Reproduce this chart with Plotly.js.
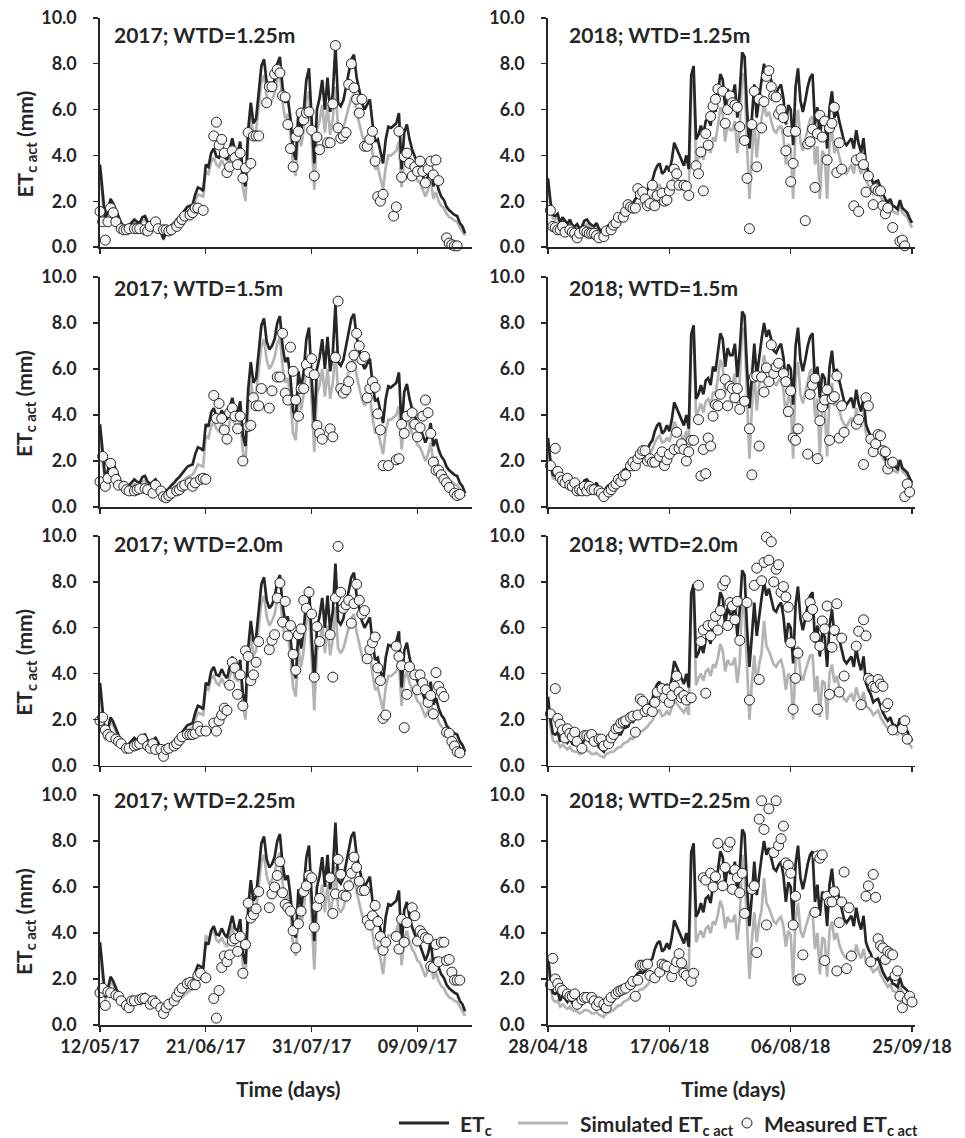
<!DOCTYPE html>
<html>
<head>
<meta charset="utf-8">
<script src="https://cdn.plot.ly/plotly-3.0.1.min.js"></script>
<style>html,body{margin:0;padding:0;background:#fff;}#chart{width:965px;height:1138px;}</style>
</head>
<body>
<div id="chart"></div>
<script>
// ---------------- DATA ----------------
const START_2017 = '2017-05-12';
const START_2018 = '2018-04-28';
const PANEL_TITLES = ['2017; WTD=1.25m','2018; WTD=1.25m','2017; WTD=1.5m','2018; WTD=1.5m',
                      '2017; WTD=2.0m','2018; WTD=2.0m','2017; WTD=2.25m','2018; WTD=2.25m'];
const X_TICKS_2017 = ['12/05/17','21/06/17','31/07/17','09/09/17'];
const X_TICKS_2018 = ['28/04/18','17/06/18','06/08/18','25/09/18'];
const Y_TICKS = [0, 2, 4, 6, 8, 10];
const SERIES_NAMES = ['ET<sub>c</sub>', 'Simulated ET<sub>c act</sub>', 'Measured ET<sub>c act</sub>'];

// ETc (daily, from start date)
const ETC_2017 = [3.6,2.2,1.2,1.6,2.1,1.9,1.6,1.3,1.05,0.9,
0.8,0.95,1.1,1.2,1.1,1.05,1.3,1.35,1.1,1.0,
1.1,1.2,1.0,0.7,0.35,0.7,0.8,0.95,1.05,1.2,
1.3,1.45,1.6,1.75,1.8,1.85,2.3,2.6,2.55,2.45,
3.6,3.5,4.1,4.3,3.95,3.9,4.2,3.95,3.8,4.3,
4.75,4.2,4.1,4.6,3.1,2.65,5.1,6.3,5.4,5.6,
6.9,7.9,8.2,7.2,6.85,7.0,7.3,8.0,8.3,7.0,
6.3,6.5,5.6,4.2,3.8,5.9,5.1,5.9,7.3,7.8,
5.6,3.65,6.0,6.5,7.3,6.0,7.4,5.9,6.7,8.8,
6.3,6.15,6.4,7.0,7.6,8.2,8.4,7.4,6.85,6.3,
6.0,6.2,6.45,5.4,4.6,4.7,4.2,3.65,4.7,5.25,
5.2,5.3,5.4,5.85,3.4,5.0,5.35,4.7,4.25,3.95,
3.65,3.45,3.1,2.8,3.1,3.65,2.65,2.95,2.5,2.2,
2.05,1.75,1.6,1.5,1.4,1.35,1.05,0.9,0.6];

const ETC_2018 = [3.0,2.0,1.4,1.35,1.45,1.05,1.3,1.15,1.0,1.2,
0.95,0.9,1.0,0.8,0.9,1.15,1.2,1.05,0.95,0.9,
1.05,0.8,0.7,0.6,0.85,0.95,1.0,1.05,1.25,1.35,
1.35,1.6,1.65,1.7,1.95,1.9,2.1,2.25,2.3,2.25,
2.35,2.5,2.75,2.9,3.3,3.55,3.65,3.2,3.3,3.55,
3.3,3.8,4.55,4.3,4.0,3.8,3.55,4.0,3.4,7.5,
7.9,4.7,4.9,5.3,4.9,5.5,5.6,5.3,6.1,5.9,
6.7,7.55,7.3,6.1,6.9,6.6,6.6,7.1,5.65,6.8,
8.5,8.3,6.0,4.3,5.65,7.1,5.65,6.6,7.3,8.0,
7.4,7.7,7.25,6.8,6.7,6.95,7.1,6.5,5.35,6.2,
6.0,4.45,7.0,7.8,6.4,5.9,6.4,7.0,7.4,7.55,
5.35,6.1,4.75,5.8,5.6,4.3,6.1,6.8,5.65,6.0,
5.5,5.0,4.6,4.45,4.6,4.75,4.3,5.1,4.5,4.15,
4.75,3.6,3.3,3.1,2.75,2.85,2.9,2.55,2.3,2.1,
1.95,2.1,1.8,1.75,1.65,2.05,1.7,1.6,1.5,1.25,
1.05];

// Simulated ETc act (daily)
const SIM_2017_125 = [3.4,2.0,1.1,1.5,1.9,1.8,1.5,1.2,0.95,0.8,
0.7,0.85,1.0,1.1,1.0,0.95,1.15,1.2,1.0,0.9,
1.0,1.05,0.9,0.6,0.3,0.6,0.7,0.85,0.95,1.05,
1.15,1.3,1.4,1.55,1.6,1.65,2.0,2.3,2.25,2.2,
3.3,3.2,3.7,3.9,3.6,3.5,3.8,3.55,3.4,3.9,
4.3,3.8,3.7,4.1,2.6,2.0,4.6,5.7,4.9,5.1,
6.3,7.2,7.5,6.6,6.2,6.4,6.7,7.3,7.6,6.3,
5.6,5.8,4.9,3.5,3.1,5.2,4.4,5.1,6.4,6.8,
4.8,2.5,5.1,5.5,6.2,5.0,6.2,4.9,5.6,7.0,
5.2,5.0,5.2,5.7,6.1,6.5,6.7,5.9,5.4,4.9,
4.6,4.8,5.0,4.1,3.4,3.5,3.0,2.5,3.5,4.0,
4.0,4.1,4.2,4.6,2.6,3.9,4.2,3.7,3.4,3.2,
2.9,2.8,2.5,2.2,2.5,3.0,2.1,2.4,2.0,1.8,
1.7,1.45,1.3,1.25,1.15,1.1,0.85,0.7,0.5];

const SIM_2017_150 = [3.3,1.9,1.05,1.45,1.85,1.75,1.45,1.15,0.9,0.75,
0.65,0.8,0.95,1.0,0.95,0.9,1.1,1.15,0.95,0.85,
0.95,1.0,0.85,0.55,0.3,0.55,0.65,0.75,0.85,0.95,
1.0,1.1,1.2,1.3,1.35,1.4,1.6,1.85,1.8,1.75,
3.1,3.0,3.5,3.7,3.4,3.3,3.6,3.35,3.2,3.7,
4.1,3.6,3.5,3.9,2.4,1.9,4.4,5.5,4.7,4.9,
6.1,7.0,7.3,6.4,6.0,6.2,6.5,7.1,7.4,6.1,
5.4,5.6,4.7,3.2,2.9,5.0,4.2,4.9,6.2,6.6,
4.6,2.4,4.9,5.3,6.0,4.8,6.0,4.7,5.4,6.8,
5.0,4.8,5.0,5.5,5.9,6.3,6.5,5.7,5.2,4.7,
4.4,4.6,4.8,3.9,3.2,3.3,2.8,2.3,3.3,3.8,
3.8,3.9,4.0,4.4,2.5,3.7,4.0,3.5,3.2,3.0,
2.7,2.6,2.3,2.0,2.3,2.8,1.9,2.2,1.8,1.6,
1.5,1.3,1.15,1.1,1.0,0.95,0.75,0.6,0.45];

const SIM_2017_200 = [3.3,2.0,1.1,1.5,1.9,1.75,1.5,1.2,0.95,0.8,
0.7,0.85,1.0,1.1,1.0,0.95,1.15,1.2,1.0,0.9,
1.0,1.05,0.9,0.6,0.3,0.6,0.7,0.85,0.95,1.05,
1.15,1.3,1.4,1.55,1.6,1.65,2.0,2.3,2.25,2.2,
3.4,3.3,3.8,3.9,3.6,3.5,3.8,3.55,3.4,3.9,
4.3,3.8,3.7,4.1,2.6,2.0,4.6,5.6,4.8,5.0,
6.2,7.1,7.4,6.5,6.1,6.3,6.6,7.2,7.5,6.2,
5.5,5.7,4.8,3.4,3.0,5.1,4.3,5.0,6.3,6.7,
4.7,2.4,5.0,5.4,6.1,4.9,6.1,4.8,5.5,6.9,
5.1,4.9,5.1,5.6,6.0,6.4,6.6,5.8,5.3,4.8,
4.5,4.7,4.9,4.0,3.3,3.4,2.9,2.4,3.4,3.9,
3.9,4.0,4.1,4.5,2.6,3.8,4.1,3.6,3.3,3.1,
2.8,2.7,2.4,2.1,2.4,2.9,2.0,2.3,1.9,1.7,
1.6,1.35,1.2,1.15,1.05,1.0,0.8,0.65,0.45];

const SIM_2017_225 = [3.3,2.0,1.1,1.45,1.85,1.75,1.45,1.2,0.95,0.8,
0.7,0.8,0.95,1.05,1.0,0.95,1.1,1.15,1.0,0.9,
0.95,1.0,0.85,0.6,0.3,0.55,0.65,0.8,0.9,1.0,
1.1,1.2,1.3,1.4,1.5,1.55,1.9,2.2,2.2,2.3,
3.9,3.7,4.0,4.1,3.7,3.6,3.8,3.55,3.4,3.9,
4.3,3.8,3.7,4.1,2.6,2.0,4.6,5.6,4.8,5.0,
6.2,7.1,7.4,6.5,6.1,6.3,6.6,7.2,7.5,6.2,
5.5,5.7,4.8,3.4,3.0,5.1,4.3,5.0,6.3,6.7,
4.7,2.4,5.0,5.4,6.1,4.9,6.1,4.8,5.5,6.9,
5.1,4.9,5.1,5.6,6.0,6.4,6.6,5.8,5.3,4.8,
4.5,4.7,4.9,4.0,3.3,3.4,2.9,2.2,3.3,3.9,
3.9,4.0,4.1,4.5,2.6,3.8,4.1,3.6,3.3,3.1,
2.8,2.7,2.4,2.1,2.4,2.9,2.0,2.3,1.9,1.7,
1.6,1.35,1.2,1.15,1.05,1.0,0.8,0.6,0.4];

const SIM_2018_125 = [2.8,1.8,1.25,1.2,1.3,0.95,1.15,1.0,0.9,1.05,
0.85,0.8,0.85,0.7,0.75,0.95,1.0,0.9,0.8,0.75,
0.85,0.65,0.55,0.45,0.65,0.75,0.8,0.85,1.0,1.1,
1.1,1.3,1.4,1.45,1.65,1.6,1.75,1.85,1.9,1.85,
1.9,2.0,2.15,2.25,2.5,2.6,2.7,2.4,2.45,2.6,
2.45,2.75,3.2,3.0,2.85,2.7,2.55,2.8,2.4,6.9,
7.3,3.6,3.9,4.2,3.8,4.3,4.4,4.1,4.8,4.6,
5.3,6.1,5.8,4.6,5.4,5.1,5.1,5.5,4.1,5.2,
7.6,7.2,4.5,2.1,4.0,5.5,3.9,5.0,5.6,6.3,
5.7,5.9,5.5,5.1,5.0,5.2,5.3,4.8,3.6,4.5,
4.3,2.1,5.3,6.0,4.6,4.2,4.7,5.2,5.6,5.7,
3.6,4.4,2.1,4.2,4.0,2.1,4.5,5.1,4.1,4.4,
3.9,3.5,3.3,3.2,3.4,3.6,3.2,4.0,3.5,3.2,
3.8,2.9,2.7,2.6,2.3,2.4,2.5,2.2,2.0,1.85,
1.7,1.85,1.55,1.5,1.45,1.8,1.5,1.4,1.3,1.05,
0.85];

const SIM_2018_150 = [2.8,1.8,1.25,1.2,1.3,0.95,1.15,1.0,0.9,1.05,
0.85,0.8,0.85,0.7,0.75,0.95,1.0,0.9,0.8,0.75,
0.85,0.65,0.55,0.45,0.65,0.75,0.8,0.85,1.0,1.1,
1.1,1.3,1.4,1.45,1.65,1.6,1.8,1.9,2.0,1.95,
2.0,2.15,2.35,2.5,2.8,3.0,3.1,2.8,2.85,3.0,
2.85,3.2,3.7,3.5,3.3,3.1,2.9,3.3,2.8,7.0,
7.5,3.9,4.2,4.5,4.1,4.6,4.7,4.4,5.0,4.9,
5.6,6.4,6.1,4.9,5.7,5.4,5.4,5.8,4.4,5.5,
7.8,7.5,4.8,2.1,4.3,5.8,4.2,5.3,5.9,6.6,
6.0,6.2,5.8,5.4,5.3,5.5,5.6,5.1,3.9,4.8,
4.6,2.1,5.6,6.3,4.9,4.5,5.0,5.5,5.9,6.0,
3.9,4.7,2.2,4.5,4.3,2.2,4.8,5.4,4.4,4.7,
4.2,3.8,3.6,3.5,3.7,3.9,3.5,4.3,3.8,3.5,
4.1,3.2,3.0,2.8,2.5,2.6,2.7,2.3,2.1,1.9,
1.75,1.9,1.6,1.55,1.5,1.85,1.55,1.45,1.35,1.1,
0.9];

const SIM_2018_200 = [2.7,1.7,1.1,1.0,1.05,0.8,0.9,0.8,0.7,0.8,
0.65,0.6,0.6,0.5,0.55,0.65,0.65,0.6,0.5,0.5,
0.55,0.45,0.4,0.35,0.5,0.55,0.6,0.6,0.7,0.8,
0.8,0.95,1.0,1.05,1.2,1.15,1.3,1.4,1.5,1.5,
1.6,1.7,1.85,1.95,2.2,2.35,2.4,2.15,2.2,2.35,
2.2,2.5,2.85,2.7,2.55,2.45,2.3,2.55,2.2,6.9,
7.4,3.5,3.8,4.0,3.7,4.1,4.2,3.9,4.4,4.3,
4.7,5.3,5.0,4.1,4.6,4.4,4.4,4.7,3.6,4.5,
7.3,6.6,3.9,2.0,3.6,4.8,3.5,4.4,4.9,6.3,
5.2,5.0,4.7,4.4,4.3,4.5,4.6,4.2,3.3,4.0,
3.8,2.0,4.5,5.2,4.0,3.7,4.1,4.5,4.8,4.8,
3.2,3.9,2.1,3.7,3.6,2.0,4.0,4.4,3.6,3.9,
3.4,3.1,2.9,2.8,3.0,3.1,2.8,3.4,3.0,2.8,
3.2,2.6,2.5,2.4,2.2,2.3,2.4,2.1,1.9,1.75,
1.6,1.75,1.45,1.4,1.35,1.65,1.35,1.25,1.1,0.9,
0.75];

const SIM_2018_225 = [2.7,1.7,1.1,1.0,1.05,0.8,0.9,0.8,0.7,0.8,
0.65,0.6,0.6,0.5,0.55,0.65,0.65,0.6,0.5,0.5,
0.55,0.45,0.4,0.35,0.5,0.55,0.6,0.65,0.75,0.85,
0.85,1.0,1.05,1.1,1.25,1.2,1.35,1.45,1.55,1.55,
1.65,1.75,1.9,2.0,2.25,2.4,2.45,2.2,2.25,2.4,
2.25,2.55,2.9,2.75,2.6,2.5,2.35,2.6,2.25,7.0,
7.5,3.6,3.9,4.1,3.8,4.2,4.3,4.0,4.5,4.4,
4.8,5.4,5.1,4.2,4.7,4.5,4.5,4.8,3.7,4.6,
7.4,6.7,4.0,2.0,3.7,4.9,3.6,4.5,5.0,6.4,
5.3,5.1,4.8,4.5,4.4,4.6,4.7,4.3,3.4,4.1,
3.9,2.0,4.6,5.3,4.1,3.8,4.2,4.6,4.9,4.9,
3.3,4.0,2.2,3.8,3.7,2.1,4.1,4.5,3.7,4.0,
3.5,3.2,3.0,2.9,3.1,3.2,2.9,3.5,3.1,2.9,
3.3,2.7,2.6,2.5,2.3,2.4,2.5,2.2,2.0,1.8,
1.65,1.8,1.5,1.45,1.4,1.7,1.4,1.3,1.15,0.95,
0.8];

// Measured ETc act: [day after start, value]
const MEAS_2017_125 = [[0,1.55],[1,1.1],[2,0.3],[3,1.1],[4,1.7],[5,1.5],[6,1.1],[8,0.8],[9,0.75],[10,0.75],[11,0.8],[13,0.8],[14,0.8],[15,0.8],[17,0.75],[18,0.7],[19,0.9],[21,1.1],[22,0.8],[24,0.75],[25,0.75],[26,0.7],[27,0.75],[29,0.9],[30,1.05],[31,1.2],[32,1.35],[34,1.4],[35,1.5],[36,1.7],[37,1.7],[39,1.6],[43,4.85],[44,5.45],[45,4.45],[46,4.7],[47,4.1],[48,3.25],[49,3.5],[50,4.2],[51,3.9],[52,3.6],[53,4.1],[54,3.0],[55,3.45],[56,5.0],[57,3.65],[58,4.85],[59,4.85],[60,4.85],[63,6.3],[64,7.0],[65,7.0],[66,7.55],[67,7.75],[68,7.6],[69,6.6],[70,6.55],[71,5.35],[72,4.3],[73,3.5],[74,4.8],[75,5.05],[76,5.85],[77,5.55],[78,5.85],[79,5.9],[80,5.1],[81,3.1],[82,4.8],[83,4.25],[86,4.55],[87,4.55],[88,6.25],[89,8.8],[90,5.2],[91,4.75],[92,4.85],[93,5.0],[94,7.1],[95,8.0],[96,6.95],[97,6.45],[98,5.85],[99,6.45],[100,4.4],[101,4.4],[102,4.7],[103,5.05],[104,3.75],[105,2.2],[106,2.0],[107,2.3],[111,1.35],[112,1.75],[113,5.05],[114,3.05],[115,3.95],[116,4.1],[117,3.65],[118,3.1],[119,3.5],[120,3.3],[121,3.75],[122,3.3],[123,2.8],[124,3.4],[125,3.75],[126,3.15],[127,3.8],[128,2.9],[131,0.4],[132,0.17],[133,0.1],[134,0.05],[135,0.05]];

const MEAS_2017_150 = [[0,1.1],[1,2.2],[2,0.9],[3,1.25],[4,1.9],[5,1.5],[6,1.2],[7,0.95],[9,0.9],[10,0.75],[11,0.7],[13,0.7],[14,0.75],[15,0.8],[17,0.8],[18,0.75],[20,0.6],[21,0.95],[23,0.7],[24,0.45],[25,0.4],[26,0.5],[27,0.6],[29,0.7],[30,0.75],[31,0.9],[32,0.95],[34,1.05],[35,0.9],[36,1.05],[38,1.2],[39,1.25],[40,1.2],[43,4.85],[44,3.85],[45,4.5],[46,3.85],[47,3.35],[48,2.95],[49,4.1],[50,4.3],[51,3.95],[52,3.4],[53,3.95],[54,2.0],[56,3.5],[57,3.55],[58,4.75],[59,4.4],[60,4.4],[61,5.15],[64,4.3],[65,5.05],[67,5.65],[68,5.65],[69,7.55],[70,4.95],[71,4.65],[72,6.95],[73,5.9],[74,4.65],[75,3.95],[76,5.15],[77,5.15],[78,6.2],[79,5.85],[80,6.45],[81,5.75],[82,3.55],[83,3.2],[84,2.95],[87,3.4],[88,3.05],[89,6.5],[90,8.95],[91,5.15],[92,4.95],[93,5.1],[94,5.45],[95,6.1],[96,6.6],[97,7.55],[98,7.0],[99,6.4],[100,6.55],[101,4.75],[102,5.15],[103,5.45],[104,5.2],[105,4.05],[106,3.35],[107,1.8],[109,1.8],[112,2.05],[113,2.1],[114,3.6],[115,3.2],[116,3.95],[118,4.1],[119,3.6],[120,3.05],[121,3.45],[122,3.95],[123,4.65],[124,4.1],[125,3.2],[126,1.95],[127,1.6],[128,1.6],[129,1.4],[130,1.2],[131,1.05],[132,0.85],[134,0.6],[135,0.5],[136,0.55]];

const MEAS_2017_200 = [[0,1.95],[1,2.1],[2,1.55],[3,1.35],[4,1.25],[6,1.15],[7,1.05],[8,0.95],[10,0.75],[11,0.75],[13,0.85],[14,0.9],[15,0.95],[16,1.15],[18,0.85],[19,0.75],[20,0.95],[21,0.7],[23,0.7],[24,0.4],[25,0.7],[26,0.75],[28,0.85],[29,0.95],[30,1.1],[31,1.25],[33,1.35],[34,1.35],[35,1.35],[36,1.4],[37,1.7],[38,1.5],[40,1.5],[43,1.85],[44,1.5],[45,1.95],[46,2.2],[47,2.5],[48,2.4],[49,3.5],[50,4.5],[51,4.25],[52,3.1],[53,3.95],[54,2.6],[55,5.0],[56,4.75],[57,3.7],[58,3.95],[59,4.5],[60,5.4],[64,5.05],[65,5.45],[66,5.7],[67,7.3],[68,7.95],[69,6.25],[70,7.15],[71,5.65],[72,6.1],[73,4.85],[74,4.15],[75,5.7],[76,5.95],[77,7.2],[78,6.85],[79,7.55],[80,6.6],[81,3.85],[82,6.05],[83,5.4],[87,5.7],[88,3.85],[89,7.3],[90,9.55],[91,7.55],[92,6.85],[93,7.0],[94,7.2],[95,6.2],[96,7.05],[97,7.9],[98,7.2],[99,6.6],[100,6.75],[101,4.65],[102,5.05],[103,5.35],[104,5.6],[105,4.25],[106,3.7],[107,2.05],[108,2.2],[112,5.2],[113,4.75],[114,4.35],[115,1.65],[116,3.1],[117,4.3],[119,3.95],[120,3.3],[121,3.95],[122,3.6],[123,3.3],[124,2.75],[125,3.05],[126,2.25],[127,4.05],[128,3.45],[129,3.2],[130,3.0],[131,1.45],[132,1.4],[133,1.05],[134,0.85],[135,0.6],[136,0.55]];

const MEAS_2017_225 = [[0,1.4],[1,1.6],[2,0.85],[3,1.45],[4,1.4],[6,1.3],[7,1.25],[8,1.05],[10,0.85],[11,0.75],[12,1.05],[13,1.05],[15,1.1],[16,1.15],[17,1.15],[19,0.9],[20,1.05],[21,0.95],[23,0.75],[24,0.5],[25,0.75],[26,0.9],[28,1.05],[29,1.25],[30,1.45],[31,1.6],[33,1.8],[34,1.85],[35,1.75],[36,1.75],[37,2.15],[38,2.25],[40,2.05],[43,1.15],[44,0.3],[45,1.5],[46,2.5],[47,3.0],[48,2.75],[49,3.05],[50,3.65],[51,3.75],[52,3.2],[53,3.85],[54,2.25],[55,3.5],[56,5.3],[57,4.65],[58,4.8],[59,5.05],[60,5.8],[64,5.1],[65,5.7],[66,6.0],[67,6.5],[68,7.1],[69,5.75],[70,5.25],[71,5.1],[72,4.95],[73,4.1],[74,3.35],[75,4.4],[76,4.95],[77,5.8],[78,6.05],[79,6.5],[80,6.4],[81,4.25],[82,5.15],[83,5.5],[87,6.4],[88,4.85],[89,5.7],[90,7.2],[91,6.55],[92,5.65],[93,5.6],[94,6.05],[95,6.6],[96,7.3],[97,6.85],[98,6.25],[99,5.85],[100,5.85],[101,4.55],[102,4.35],[103,4.75],[104,5.2],[105,4.5],[106,3.85],[107,3.25],[108,3.6],[112,3.85],[113,3.3],[114,4.6],[115,3.6],[116,4.45],[118,5.1],[119,4.75],[120,3.65],[121,4.1],[122,3.95],[123,3.8],[124,3.75],[125,2.55],[126,2.5],[127,3.5],[128,2.75],[129,3.6],[130,3.6],[131,2.8],[132,2.85],[133,2.3],[134,1.95],[135,1.95],[136,1.95]];

const MEAS_2018_125 = [[1,1.6],[2,0.9],[3,0.85],[4,0.75],[5,0.75],[6,0.9],[7,0.65],[9,0.75],[10,0.65],[11,0.6],[12,0.4],[13,0.6],[15,0.7],[16,0.65],[17,0.6],[18,0.6],[19,0.6],[20,0.5],[21,0.4],[23,0.45],[24,0.7],[26,0.75],[27,0.95],[28,1.05],[29,1.3],[31,1.3],[32,1.55],[33,1.85],[34,1.75],[35,1.7],[36,1.7],[37,2.55],[38,2.3],[39,2.4],[40,2.1],[41,1.8],[42,1.9],[43,2.7],[44,1.8],[45,2.25],[47,2.35],[48,2.0],[49,2.05],[50,2.45],[51,2.7],[52,3.4],[53,3.2],[54,2.7],[56,2.7],[57,2.65],[58,2.25],[61,3.55],[62,3.2],[63,4.15],[64,2.45],[65,4.95],[66,4.45],[67,5.7],[68,6.15],[69,6.45],[70,6.9],[72,6.8],[73,5.4],[74,6.0],[75,6.6],[76,6.3],[77,6.2],[78,6.1],[79,5.25],[81,4.65],[82,3.0],[83,0.8],[84,5.35],[85,6.8],[86,3.5],[87,6.45],[88,5.2],[89,6.35],[90,7.45],[91,7.7],[92,7.0],[93,6.6],[94,6.55],[95,5.8],[96,6.0],[97,5.65],[98,4.2],[99,5.05],[100,2.85],[101,3.65],[102,5.05],[106,1.15],[107,4.5],[108,4.6],[109,5.15],[110,2.6],[111,4.95],[112,5.75],[113,4.8],[114,5.5],[115,3.8],[116,5.2],[117,5.4],[118,6.1],[119,3.25],[120,4.55],[121,3.4],[126,1.8],[127,3.8],[128,1.55],[129,3.9],[130,3.6],[131,2.4],[132,3.1],[134,1.85],[135,2.55],[136,2.45],[137,2.45],[138,1.8],[139,1.45],[140,1.7],[142,0.85],[145,0.25],[146,0.3],[147,0.05]];

const MEAS_2018_150 = [[1,1.8],[3,2.55],[4,1.55],[5,1.3],[6,1.15],[7,1.05],[8,1.25],[9,0.95],[10,0.9],[11,1.05],[12,0.7],[13,0.75],[14,0.7],[15,0.9],[16,0.7],[17,0.9],[18,0.75],[19,0.75],[21,0.7],[22,0.6],[23,0.45],[25,0.65],[26,0.75],[27,0.9],[28,1.0],[29,1.2],[30,1.1],[31,1.35],[32,1.4],[34,1.8],[35,1.95],[36,1.8],[37,2.1],[38,2.3],[39,2.45],[40,2.45],[41,2.0],[42,2.1],[43,1.95],[44,1.95],[46,2.2],[47,2.4],[48,1.8],[49,2.05],[50,2.3],[52,2.5],[53,3.25],[54,2.55],[55,2.75],[56,2.5],[57,2.0],[58,2.4],[59,2.9],[60,2.9],[62,3.8],[63,1.35],[64,2.5],[65,1.45],[66,3.0],[67,2.65],[68,3.95],[69,4.45],[70,4.4],[71,4.9],[73,5.55],[74,4.4],[75,5.25],[76,5.15],[77,4.75],[78,5.15],[79,4.25],[81,4.6],[83,3.4],[84,1.4],[85,5.65],[86,5.7],[87,2.65],[88,5.65],[89,5.0],[90,6.05],[91,5.45],[92,7.05],[93,5.8],[94,6.1],[95,6.25],[97,5.8],[98,5.45],[99,4.15],[100,5.05],[101,3.0],[102,2.9],[103,3.4],[107,2.3],[108,4.9],[109,5.3],[110,5.6],[111,2.1],[112,3.75],[113,4.35],[114,4.65],[115,5.1],[116,2.9],[117,4.7],[118,4.8],[119,5.7],[120,3.0],[121,4.4],[122,3.25],[127,3.6],[128,3.8],[130,1.85],[131,4.75],[132,4.4],[133,2.95],[134,2.4],[135,2.75],[136,3.15],[137,3.1],[138,2.45],[139,2.4],[140,1.65],[141,1.9],[142,1.95],[147,0.45],[148,1.0],[149,0.65]];

const MEAS_2018_200 = [[1,2.25],[3,3.35],[4,2.05],[5,1.8],[6,1.55],[7,1.2],[8,1.6],[9,1.4],[10,1.25],[11,1.45],[12,1.05],[14,0.75],[15,1.3],[16,1.3],[17,1.25],[18,1.35],[19,1.05],[21,1.15],[22,1.15],[23,0.85],[25,0.95],[26,1.2],[27,1.35],[28,1.6],[29,1.65],[30,1.85],[31,1.9],[32,1.95],[34,2.1],[35,2.15],[36,1.45],[37,2.2],[38,2.9],[39,2.8],[40,2.35],[41,2.45],[43,2.35],[44,2.75],[45,3.2],[47,3.35],[48,2.95],[49,3.3],[50,2.75],[51,3.05],[52,3.45],[53,3.9],[54,3.2],[55,2.95],[56,3.05],[57,2.85],[59,2.95],[62,7.85],[63,5.4],[64,5.9],[65,3.15],[66,6.1],[67,5.65],[68,6.15],[69,6.5],[70,5.9],[71,6.75],[72,7.85],[73,8.05],[74,6.1],[75,7.1],[76,6.95],[77,6.35],[78,7.15],[79,5.45],[82,7.1],[83,2.85],[85,7.85],[86,8.6],[87,3.75],[88,8.05],[89,8.85],[90,9.95],[91,8.95],[92,9.75],[93,8.0],[94,8.55],[95,8.75],[96,7.55],[97,7.8],[98,7.35],[99,6.9],[100,5.35],[101,2.45],[102,3.8],[103,4.9],[107,6.5],[108,7.1],[109,6.8],[110,5.6],[111,2.45],[112,5.2],[113,6.3],[114,5.95],[115,6.95],[116,3.1],[117,5.15],[118,5.9],[119,7.05],[120,3.2],[121,5.55],[122,3.9],[127,5.2],[128,5.85],[129,2.65],[130,6.35],[131,5.65],[132,3.8],[133,3.7],[134,3.45],[135,3.4],[136,3.75],[137,3.55],[138,3.45],[139,2.55],[140,2.7],[142,1.55],[146,1.6],[147,1.95],[148,1.15]];

const MEAS_2018_225 = [[1,1.75],[2,2.9],[3,2.0],[4,1.8],[5,1.6],[6,1.5],[8,1.35],[9,1.25],[10,1.25],[11,1.35],[12,0.9],[14,1.1],[15,1.2],[16,1.2],[18,1.2],[19,1.05],[20,0.85],[21,1.0],[23,0.9],[24,0.75],[25,1.05],[26,1.2],[28,1.35],[29,1.45],[30,1.5],[31,1.55],[32,1.6],[34,1.75],[35,1.9],[36,1.25],[37,1.95],[38,2.6],[39,2.6],[40,2.6],[41,2.65],[42,2.15],[44,2.05],[46,2.3],[47,2.65],[48,2.6],[49,2.55],[51,2.1],[52,2.45],[53,2.75],[54,3.1],[55,2.7],[56,2.25],[57,2.15],[59,1.9],[60,2.25],[64,6.4],[65,6.3],[67,6.6],[68,6.0],[69,6.45],[70,7.9],[72,6.05],[73,6.85],[74,7.75],[75,7.95],[76,5.9],[77,6.75],[78,6.4],[79,5.75],[80,6.6],[81,4.85],[84,5.9],[85,6.05],[86,3.15],[87,8.95],[88,9.75],[89,8.5],[90,4.35],[91,9.4],[93,7.5],[94,9.75],[95,7.8],[96,8.1],[97,8.65],[98,7.05],[99,6.95],[100,6.6],[101,4.35],[102,5.6],[103,1.95],[104,2.0],[105,3.05],[110,4.9],[111,7.35],[112,7.25],[113,7.4],[114,2.8],[115,5.6],[116,5.35],[117,5.35],[118,5.8],[119,2.35],[120,4.45],[121,5.35],[122,6.65],[123,2.45],[124,5.1],[125,3.0],[131,5.6],[132,6.05],[133,2.75],[134,6.55],[135,5.55],[136,3.75],[137,3.45],[138,3.35],[139,2.85],[140,3.2],[141,3.1],[142,3.05],[143,2.15],[144,2.35],[145,1.25],[146,0.75],[148,1.1],[149,1.25],[150,1.0]];

// ---------------- BUILD ----------------
const DAY = 86400000;
function dateOf(start, d) {
  const p = start.split('-').map(Number);
  return new Date(Date.UTC(p[0], p[1]-1, p[2]) + d*DAY).toISOString().slice(0,10);
}
const FONT = 'Lato, "Open Sans", "DejaVu Sans", sans-serif';
const INK = '#262626';
const GREY = '#b3b3b3';
const FILL = '#f3f3f3';

const panels = [
  {start: START_2017, etc: ETC_2017, sim: SIM_2017_125, meas: MEAS_2017_125},
  {start: START_2018, etc: ETC_2018, sim: SIM_2018_125, meas: MEAS_2018_125},
  {start: START_2017, etc: ETC_2017, sim: SIM_2017_150, meas: MEAS_2017_150},
  {start: START_2018, etc: ETC_2018, sim: SIM_2018_150, meas: MEAS_2018_150},
  {start: START_2017, etc: ETC_2017, sim: SIM_2017_200, meas: MEAS_2017_200},
  {start: START_2018, etc: ETC_2018, sim: SIM_2018_200, meas: MEAS_2018_200},
  {start: START_2017, etc: ETC_2017, sim: SIM_2017_225, meas: MEAS_2017_225},
  {start: START_2018, etc: ETC_2018, sim: SIM_2018_225, meas: MEAS_2018_225}
];

const W = 965, H = 1138;
const px = v => v / W, py = v => 1 - v / H;
const colPx = [[100, 471.7], [548, 914.5]];
const rowPx = [[18, 247], [277, 507], [536, 765.5], [795, 1025]];
const titleYpx = [35, 287, 543, 799];
const xRange = {
  '2017-05-12': ['2017-05-12', '2017-09-29 12:00'],
  '2018-04-28': ['2018-04-28', '2018-09-26']
};

const traces = [];
const layout = {
  width: W, height: H,
  margin: {l: 0, r: 0, t: 0, b: 0},
  paper_bgcolor: '#fff', plot_bgcolor: '#fff',
  font: {family: FONT, color: INK},
  showlegend: false,
  annotations: [],
  shapes: []
};

panels.forEach((p, i) => {
  const n = i + 1;
  const col = i % 2, row = Math.floor(i / 2);
  const xa = 'x' + (n === 1 ? '' : n), ya = 'y' + (n === 1 ? '' : n);
  traces.push({
    type: 'scatter', mode: 'lines', x: p.sim.map((_, d) => dateOf(p.start, d)), y: p.sim,
    xaxis: xa, yaxis: ya, name: SERIES_NAMES[1],
    line: {color: GREY, width: 2.7}, hoverinfo: 'skip'
  });
  traces.push({
    type: 'scatter', mode: 'lines', x: p.etc.map((_, d) => dateOf(p.start, d)), y: p.etc,
    xaxis: xa, yaxis: ya, name: SERIES_NAMES[0],
    line: {color: INK, width: 2.7}, hoverinfo: 'skip'
  });
  traces.push({
    type: 'scatter', mode: 'markers',
    x: p.meas.map(m => dateOf(p.start, m[0])), y: p.meas.map(m => m[1]),
    xaxis: xa, yaxis: ya, cliponaxis: false, name: SERIES_NAMES[2],
    marker: {symbol: 'circle', size: 10, color: FILL, line: {color: INK, width: 1}},
    hoverinfo: 'skip'
  });
  const is2017 = p.start === START_2017;
  layout['xaxis' + (n === 1 ? '' : n)] = {
    domain: [px(colPx[col][0]), px(colPx[col][1])],
    anchor: ya, type: 'date', range: xRange[p.start],
    tickmode: 'array',
    tickvals: [0, 1, 2, 3].map(k => dateOf(p.start, k * (is2017 ? 40 : 50))),
    ticktext: is2017 ? X_TICKS_2017 : X_TICKS_2018,
    showticklabels: row === 3,
    tickfont: {family: FONT, size: 18, color: INK, weight: 'bold'},
    ticks: 'outside', ticklen: 5, tickwidth: 1.3, tickcolor: INK,
    showline: true, linecolor: INK, linewidth: 1.6,
    showgrid: false, zeroline: false, fixedrange: true
  };
  layout['yaxis' + (n === 1 ? '' : n)] = {
    domain: [py(rowPx[row][1]), py(rowPx[row][0])],
    anchor: xa, range: [0, 10],
    tickmode: 'array', tickvals: Y_TICKS, ticktext: Y_TICKS.map(v => v.toFixed(1)),
    tickfont: {family: FONT, size: 18, color: INK, weight: 'bold'},
    ticks: 'outside', ticklen: 5, tickwidth: 1.3, tickcolor: INK, ticklabelstandoff: 13,
    showline: true, linecolor: INK, linewidth: 1.6,
    showgrid: false, zeroline: false, fixedrange: true
  };
  layout.annotations.push({
    xref: 'paper', yref: 'paper', x: px(col === 0 ? 112 : 567), y: py(titleYpx[row]),
    xanchor: 'left', yanchor: 'middle', showarrow: false,
    text: PANEL_TITLES[i], font: {family: FONT, size: 21, color: INK, weight: 'bold'}
  });
  if (col === 0) {
    layout.annotations.push({
      xref: 'paper', yref: 'paper', x: px(25), y: py((rowPx[row][0] + rowPx[row][1]) / 2 + 12),
      xanchor: 'center', yanchor: 'middle', showarrow: false, textangle: -90,
      text: 'ET<sub>c act</sub> (mm)', font: {family: FONT, size: 21, color: INK, weight: 'bold'}
    });
  }
});

[288, 733].forEach(xp => layout.annotations.push({
  xref: 'paper', yref: 'paper', x: px(xp), y: py(1088), xanchor: 'center', yanchor: 'middle',
  showarrow: false, text: 'Time (days)', font: {family: FONT, size: 21, color: INK, weight: 'bold'}
}));

// Legend (drawn by hand to match the reference spacing)
const LY = 1123;
layout.shapes.push({type: 'line', xref: 'paper', yref: 'paper', x0: px(399), x1: px(449), y0: py(LY), y1: py(LY),
  line: {color: INK, width: 3}});
layout.shapes.push({type: 'line', xref: 'paper', yref: 'paper', x0: px(518), x1: px(568), y0: py(LY), y1: py(LY),
  line: {color: GREY, width: 3}});
layout.shapes.push({type: 'circle', xref: 'paper', yref: 'paper', x0: px(742), x1: px(752), y0: py(LY + 5), y1: py(LY - 5),
  fillcolor: FILL, line: {color: INK, width: 1}});
[[458, SERIES_NAMES[0]], [578, SERIES_NAMES[1]], [762, SERIES_NAMES[2]]].forEach(([xp, t]) =>
  layout.annotations.push({
    xref: 'paper', yref: 'paper', x: px(xp), y: py(LY + 2), xanchor: 'left', yanchor: 'middle',
    showarrow: false, text: t, font: {family: FONT, size: 21, color: INK, weight: 'bold'}
  }));

Plotly.newPlot('chart', traces, layout, {staticPlot: true, displayModeBar: false});
</script>
</body>
</html>
